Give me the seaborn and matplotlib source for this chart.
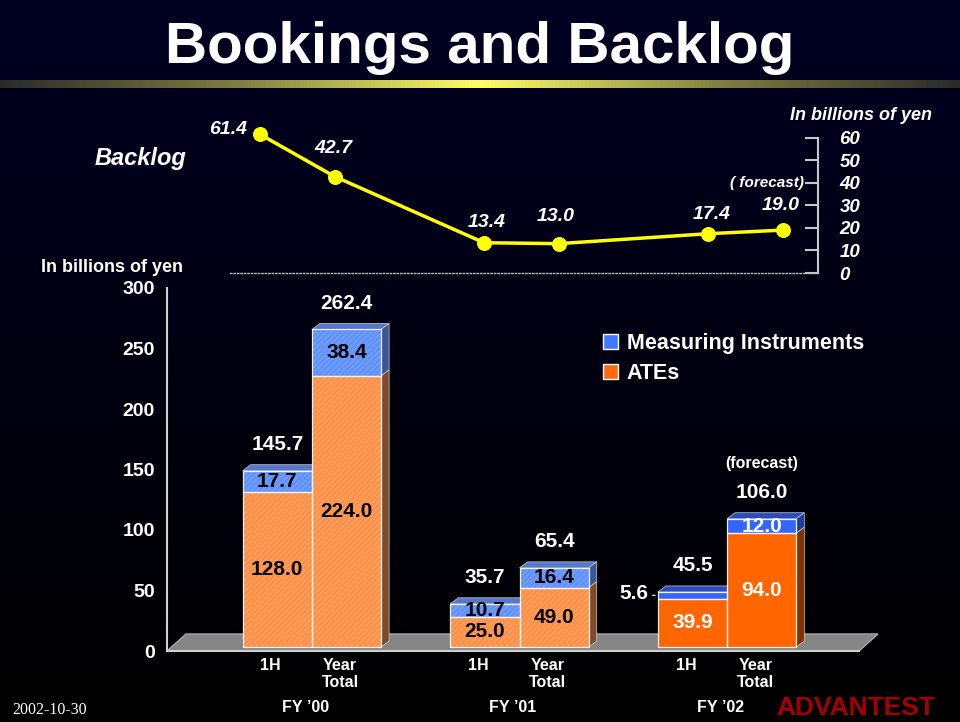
import numpy as np
import pandas as pd
import matplotlib
matplotlib.use('Agg')
import matplotlib.pyplot as plt
import seaborn as sns
from matplotlib.colors import LinearSegmentedColormap
from matplotlib.patches import Polygon, Rectangle, Patch
from matplotlib.transforms import ScaledTranslation

# Data (billions of yen)
fiscal_years = ["FY \u201900", "FY \u201901", "FY \u201902"]
periods = ["1H", "Year\nTotal"]
ates = [128.0, 224.0, 25.0, 49.0, 39.9, 94.0]
measuring = [17.7, 38.4, 10.7, 16.4, 5.6, 12.0]
backlog = [61.4, 42.7, 13.4, 13.0, 17.4, 19.0]
is_forecast = [False, False, False, False, True, True]

totals = [round(a + m, 1) for a, m in zip(ates, measuring)]

# Colours
ATE_FRONT = {False: '#FF9A55', True: '#FF6600'}
ATE_SIDE = {False: '#7E4C28', True: '#7F3300'}
MI_FRONT = {False: '#6B9BFF', True: '#3366FF'}
MI_TOP = {False: '#5577CC', True: '#2A4CC0'}
MI_SIDE = {False: '#3A5699', True: '#1F3A99'}
HATCH = {'#FF9A55': '#F08A48', '#6B9BFF': '#5A88EE'}

sns.set_theme(style='dark')
plt.rcParams['font.family'] = ['Liberation Sans', 'DejaVu Sans']
plt.rcParams['hatch.linewidth'] = 0.6

W, H = 960, 722
fig = plt.figure(figsize=(W / 100, H / 100), dpi=100)


def fx(px):
    return px / W


def fy(py):
    return 1 - py / H


# background gradient + yellow rule under the title
bg = fig.add_axes([0, 0, 1, 1], zorder=-10)
grad = np.linspace(0, 1, 256).reshape(-1, 1)
bg_cmap = LinearSegmentedColormap.from_list('bg', ['#000000', '#000022'])
bg.imshow(grad, aspect='auto', cmap=bg_cmap, extent=[0, 1, 0, 1], origin='lower')
rule_cmap = LinearSegmentedColormap.from_list(
    'rule', ['#2A2A2A', '#808040', '#FFFF66', '#808040', '#2A2A2A'])
bg.imshow(np.linspace(0, 1, 256).reshape(1, -1), aspect='auto', cmap=rule_cmap,
          extent=[0, 1, fy(88), fy(80)])
bg.set_xlim(0, 1)
bg.set_ylim(0, 1)
bg.axis('off')

fig.text(0.5, fy(63), 'Bookings and Backlog', ha='center', va='baseline',
         fontsize=42, fontweight='bold', color='white')

# positions: two periods per fiscal year, one empty slot between years
pos = [g * 3 + j for g in range(len(fiscal_years)) for j in range(len(periods))]

# ---------------- Backlog line (top) ----------------
ax_top = fig.add_axes([fx(230), fy(273), fx(588), 135.5 / H])
ax_top.set_facecolor('none')
line_df = pd.DataFrame({'pos': pos, 'backlog': backlog})
sns.lineplot(data=line_df, x='pos', y='backlog', ax=ax_top, color='#FFFF00',
             lw=2.5, marker='o', markersize=10, markeredgecolor='#FFFF00',
             clip_on=False, zorder=5)
ax_top.set_xlim(-30 / 74.7, 558 / 74.7)
ax_top.set_ylim(0, 60)
ax_top.set_xlabel('')
ax_top.set_ylabel('')
ax_top.set_xticks([])
ax_top.yaxis.tick_right()
ax_top.set_yticks(range(0, 61, 10), labels=[str(v) for v in range(0, 61, 10)],
                  fontstyle='italic', fontweight='bold')
ax_top.tick_params(axis='y', direction='in', length=9.4, width=1.5, color='#C8C8C8',
                   pad=15.5, labelsize=13.5, labelcolor='white')
ax_top.grid(False)
for side in ['top', 'left']:
    ax_top.spines[side].set_visible(False)
ax_top.spines['right'].set_color('#C8C8C8')
ax_top.spines['right'].set_linewidth(1.5)
ax_top.spines['bottom'].set_color('#B8B8B8')
ax_top.spines['bottom'].set_linewidth(1)
ax_top.spines['bottom'].set_linestyle((0, (1, 1.5)))

label_offsets_px = [(-32, 5), (-1, 28), (3, 20), (-3, 27), (3, 19), (-2, 25)]
for p, v, (ox, oy) in zip(pos, backlog, label_offsets_px):
    ax_top.annotate(f'{v:.1f}', xy=(p, v), xytext=(ox * 0.72, oy * 0.72),
                    textcoords='offset points', ha='center', va='center',
                    fontsize=14, fontstyle='italic', fontweight='bold',
                    color='white', annotation_clip=False)
ax_top.text(1 - 14 / 588, 40, '( forecast)', transform=ax_top.get_yaxis_transform(),
            ha='right', va='center', fontsize=11, fontstyle='italic',
            fontweight='bold', color='white')
fig.text(fx(861), fy(115), 'In billions of yen', ha='center', va='center',
         fontsize=13, fontstyle='italic', fontweight='bold', color='white')
fig.text(fx(140), fy(158), 'Backlog', ha='center', va='center', fontsize=17,
         fontstyle='italic', fontweight='bold', color='white')

# ---------------- Bookings bars (bottom) ----------------
ax = fig.add_axes([fx(167), fy(651), fx(692), 363 / H])
ax.set_facecolor('none')
n_slots = 10
px_x = 692 / n_slots
px_y = 363 / 300

bar_df = pd.DataFrame({
    'center': [p + 1.5 for p in pos],
    'ates': ates,
    'total': totals,
    'bar': [f'{f} {per}' for f in fiscal_years for per in periods],
    'forecast': is_forecast,
})
mi_pal = {b: MI_FRONT[f] for b, f in zip(bar_df['bar'], bar_df['forecast'])}
ate_pal = {b: ATE_FRONT[f] for b, f in zip(bar_df['bar'], bar_df['forecast'])}
sns.barplot(data=bar_df, x='center', y='total', hue='bar', palette=mi_pal,
            native_scale=True, width=1, dodge=False, legend=False, errorbar=None,
            saturation=1, ax=ax)
sns.barplot(data=bar_df, x='center', y='ates', hue='bar', palette=ate_pal,
            native_scale=True, width=1, dodge=False, legend=False, errorbar=None,
            saturation=1, ax=ax)

# bars stand in the middle of the 3D floor
trans = ax.transData + ScaledTranslation(6.5 / 100, 4 / 100, fig.dpi_scale_trans)
for patch in ax.patches:
    patch.set_transform(trans)
    patch.set_zorder(3)
    patch.set_linewidth(0)
    fc = matplotlib.colors.to_hex(patch.get_facecolor())
    if fc.upper() in [c.upper() for c in HATCH]:
        hc = [v for k, v in HATCH.items() if k.upper() == fc.upper()][0]
        patch.set_edgecolor(hc)
        patch.set_hatch('//////')

ddx, ddy = 8 / px_x, 6 / px_y
fdx, fdy = 19 / px_x, 17 / px_y
floor = Polygon([(0, 0), (n_slots, 0), (n_slots + fdx, fdy), (fdx, fdy)],
                closed=True, facecolor='#858585', edgecolor='#A8A8A8', lw=1,
                clip_on=False, zorder=1)
ax.add_patch(floor)

face_kw = dict(closed=True, transform=trans, clip_on=False, zorder=2,
               edgecolor='#D0D0D0', lw=0.5)
out_kw = dict(fill=False, edgecolor='#F2F2F2', lw=0.9, transform=trans,
              clip_on=False, zorder=4)
for _, r in bar_df.iterrows():
    c, a, t, f = r['center'], r['ates'], r['total'], r['forecast']
    x0, x1 = c - 0.5, c + 0.5
    ax.add_patch(Polygon([(x0, t), (x1, t), (x1 + ddx, t + ddy), (x0 + ddx, t + ddy)],
                         facecolor=MI_TOP[f], **face_kw))
    ax.add_patch(Polygon([(x1, a), (x1, t), (x1 + ddx, t + ddy), (x1 + ddx, a + ddy)],
                         facecolor=MI_SIDE[f], **face_kw))
    ax.add_patch(Polygon([(x1, 0), (x1, a), (x1 + ddx, a + ddy), (x1 + ddx, ddy)],
                         facecolor=ATE_SIDE[f], **face_kw))
    ax.add_patch(Rectangle((x0, 0), 1, a, **out_kw))
    ax.add_patch(Rectangle((x0, a), 1, t - a, **out_kw))

# value labels
for _, r in bar_df.iterrows():
    c, a, t, f = r['center'], r['ates'], r['total'], r['forecast']
    m = round(t - a, 1)
    txt_col = 'white' if f else 'black'
    ax.text(c, a / 2, f'{a:.1f}', transform=trans, ha='center', va='center',
            fontsize=15, fontweight='bold', color=txt_col, zorder=6)
    if m * px_y >= 12:
        ax.text(c, a + m / 2, f'{m:.1f}', transform=trans, ha='center', va='center',
                fontsize=15, fontweight='bold', color=txt_col, zorder=6)
    else:
        ax.annotate('', xy=(c - 0.5, a + m / 2), xycoords=trans,
                    xytext=(-8 * 0.72, 0), textcoords='offset points',
                    arrowprops=dict(arrowstyle='-', color='#D0D0D0', lw=1))
        ax.annotate(f'{m:.1f}', xy=(c - 0.5, a + m / 2), xycoords=trans,
                    xytext=(-9 * 0.72, 2 * 0.72), textcoords='offset points',
                    ha='right', va='center', fontsize=15, fontweight='bold',
                    color='white', zorder=6)
    ax.annotate(f'{t:.1f}', xy=(c, t), xycoords=trans, xytext=(0, 26 * 0.72),
                textcoords='offset points', ha='center', va='center', fontsize=15,
                fontweight='bold', color='white', annotation_clip=False)
    if f and r['bar'].endswith('Total'):
        ax.annotate('(forecast)', xy=(c, t), xycoords=trans, xytext=(0, 55 * 0.72),
                    textcoords='offset points', ha='center', va='center',
                    fontsize=11.5, fontweight='bold', color='white',
                    annotation_clip=False)

ax.set_xlim(0, n_slots)
ax.set_ylim(0, 300)
ax.set_xlabel('')
ax.set_ylabel('')
ax.grid(False)
ax.set_xticks(bar_df['center'], labels=periods * len(fiscal_years),
              fontweight='bold')
ax.set_xticks(range(n_slots + 1), minor=True)
ax.tick_params(axis='x', which='major', length=0, pad=5, labelsize=11.5,
               labelcolor='white')
ax.tick_params(axis='x', which='minor', direction='out', length=3.6, width=1,
               color='#C8C8C8')
ax.set_yticks(range(0, 301, 50), labels=[str(v) for v in range(0, 301, 50)],
              fontweight='bold')
ax.tick_params(axis='y', direction='in', length=3.6, width=1.2, color='#C8C8C8',
               pad=8.6, labelsize=14, labelcolor='white')
for side in ['top', 'right']:
    ax.spines[side].set_visible(False)
for side in ['left', 'bottom']:
    ax.spines[side].set_color('#D0D0D0')
    ax.spines[side].set_linewidth(1.5)
    ax.spines[side].set_zorder(5)

for g, name in enumerate(fiscal_years):
    ax.annotate(name, xy=(g * 3 + 2, 0), xycoords=ax.get_xaxis_transform(),
                xytext=(0, -57 * 0.72), textcoords='offset points', ha='center',
                va='center', fontsize=11.5, fontweight='bold', color='white',
                annotation_clip=False)

fig.text(fx(112), fy(268), 'In billions of yen', ha='center', va='center',
         fontsize=13, fontweight='bold', color='white')

handles = [Patch(facecolor='#4477FF', edgecolor='white', lw=1,
                 label='Measuring Instruments'),
           Patch(facecolor='#FF6A10', edgecolor='white', lw=1, label='ATEs')]
ax.legend(handles=handles, loc='upper left', bbox_to_anchor=(fx(603), fy(333)),
          bbox_transform=fig.transFigure, frameon=False,
          prop=dict(weight='bold', size=15.5), labelcolor='white',
          handlelength=0.7, handleheight=0.7, handletextpad=0.4,
          labelspacing=0.4, borderpad=0, borderaxespad=0)

# footer
fig.text(fx(12), fy(710), '2002-10-30', ha='left', va='center', fontsize=11.5,
         family=['Liberation Serif', 'DejaVu Serif'], color='white')
fig.text(fx(776), fy(720), 'ADVANTEST', ha='left', va='bottom', fontsize=19,
         fontweight='bold', color='#A50000')

fig.savefig('out.png', dpi=100, facecolor='black')
